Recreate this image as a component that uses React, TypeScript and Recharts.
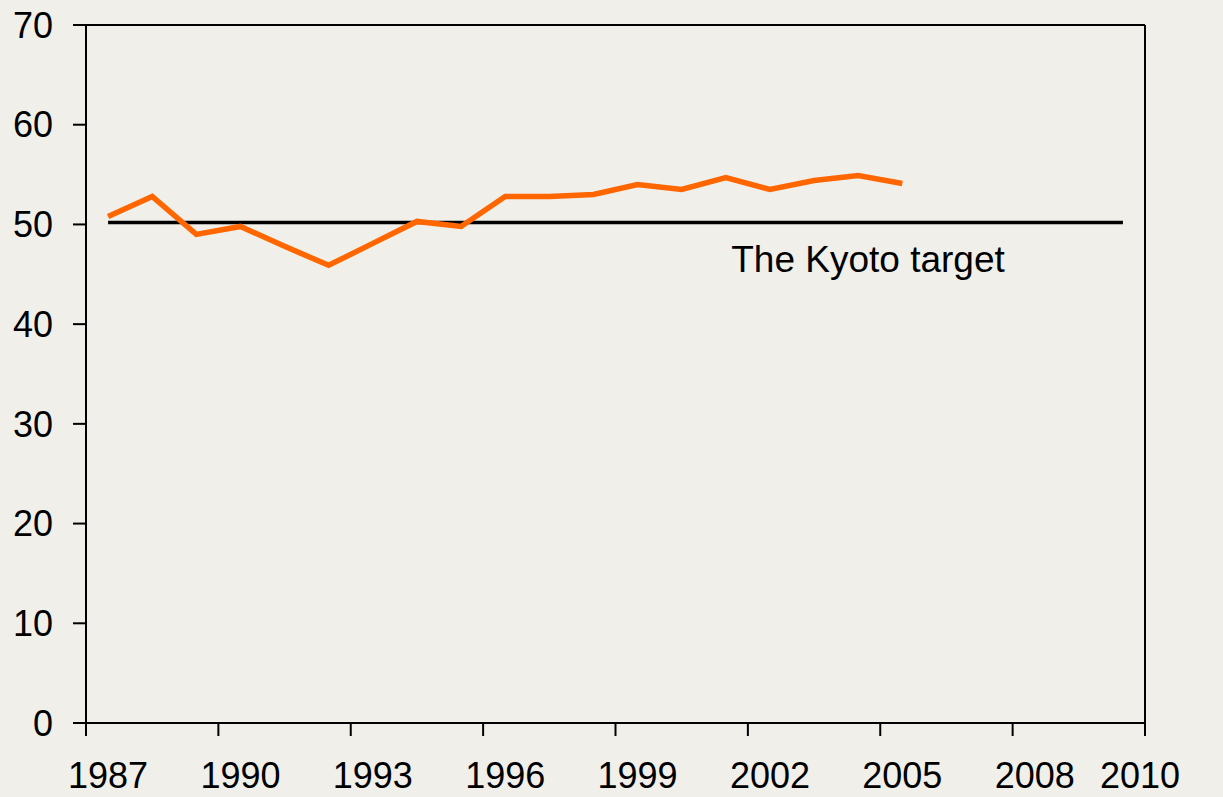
import React from 'react';
import { LineChart, Line, XAxis, YAxis, ReferenceLine, ReferenceDot } from 'recharts';

const years = [
  1987, 1988, 1989, 1990, 1991, 1992, 1993, 1994, 1995, 1996, 1997, 1998,
  1999, 2000, 2001, 2002, 2003, 2004, 2005, 2006, 2007, 2008, 2009, 2010,
];
const emissions = [
  50.8, 52.8, 49.0, 49.8, 47.8, 45.9, 48.1, 50.3, 49.8, 52.8, 52.8, 53.0,
  54.0, 53.5, 54.7, 53.5, 54.4, 54.9, 54.1,
];
const kyotoTarget = [
  50.2, 50.2, 50.2, 50.2, 50.2, 50.2, 50.2, 50.2, 50.2, 50.2, 50.2, 50.2,
  50.2, 50.2, 50.2, 50.2, 50.2, 50.2, 50.2, 50.2, 50.2, 50.2, 50.2, 50.2,
];
const yTicks = [0, 10, 20, 30, 40, 50, 60, 70];
// boundaries between year categories get tick marks, centres get labels
const xTickMarks = [1986.5, 1989.5, 1992.5, 1995.5, 1998.5, 2001.5, 2004.5, 2007.5, 2010.5];
const xTickLabels = [1987, 1990, 1993, 1996, 1999, 2002, 2005, 2008, 2010];
const annotation = { year: 2001.1, value: 46.5, text: 'The Kyoto target' };

const FONT = '"Liberation Sans", Arial, sans-serif';
const BG = '#F0EFE9';

const data = years.map((y, i) => ({
  year: y,
  emissions: i < emissions.length ? emissions[i] : null,
  target: kyotoTarget[i],
}));

const XTick = (props: any) => {
  const { x, y, payload } = props;
  const v = payload.value as number;
  if (!Number.isInteger(v)) {
    return <line x1={x} x2={x} y1={y} y2={y + 13} stroke="#000" strokeWidth={2} />;
  }
  return (
    <text
      x={x + (v === 2010 ? 17 : 0)}
      y={y + 65}
      textAnchor="middle"
      fontSize={36}
      fontFamily={FONT}
      fill="#000"
    >
      {v}
    </text>
  );
};

export default function App() {
  return (
    <div style={{ position: 'absolute', left: 0, top: 0, width: 1223, height: 797, background: BG }}>
      <LineChart width={1223} height={797} data={data} margin={{ top: 25, right: 0, bottom: 0, left: 0 }}>
        <XAxis
          dataKey="year"
          type="number"
          domain={[1986.5, 2010.5]}
          ticks={[...xTickMarks, ...xTickLabels].sort((a, b) => a - b)}
          interval={0}
          tick={<XTick />}
          tickLine={false}
          tickSize={0}
          tickMargin={0}
          height={74}
          axisLine={{ stroke: '#000', strokeWidth: 2 }}
        />
        <YAxis
          yAxisId="left"
          orientation="left"
          type="number"
          domain={[0, 70]}
          ticks={yTicks}
          interval={0}
          width={86}
          tickSize={13}
          tickMargin={20}
          axisLine={{ stroke: '#000', strokeWidth: 2 }}
          tickLine={{ stroke: '#000', strokeWidth: 2 }}
          tick={{ fontSize: 36, fill: '#000', fontFamily: FONT }}
        />
        <YAxis
          yAxisId="right"
          orientation="right"
          type="number"
          domain={[0, 70]}
          ticks={yTicks}
          interval={0}
          width={78}
          tickSize={12}
          tickMargin={17}
          axisLine={{ stroke: '#000', strokeWidth: 2 }}
          tickLine={{ stroke: '#000', strokeWidth: 2 }}
          tick={{ fontSize: 36, fill: '#000', fontFamily: FONT }}
        />
        <ReferenceLine yAxisId="left" y={70} stroke="#000" strokeWidth={2} />
        <Line
          yAxisId="left"
          dataKey="target"
          stroke="#000"
          strokeWidth={3.5}
          dot={false}
          isAnimationActive={false}
        />
        <Line
          yAxisId="left"
          dataKey="emissions"
          stroke="#FF6600"
          strokeWidth={5.5}
          dot={false}
          isAnimationActive={false}
        />
        <ReferenceDot
          yAxisId="left"
          x={annotation.year}
          y={annotation.value}
          r={1}
          fill="none"
          stroke="none"
          label={{
            value: annotation.text,
            position: 'right',
            offset: 0,
            fontSize: 37,
            fill: '#000',
            fontFamily: FONT,
          }}
        />
      </LineChart>
    </div>
  );
}
